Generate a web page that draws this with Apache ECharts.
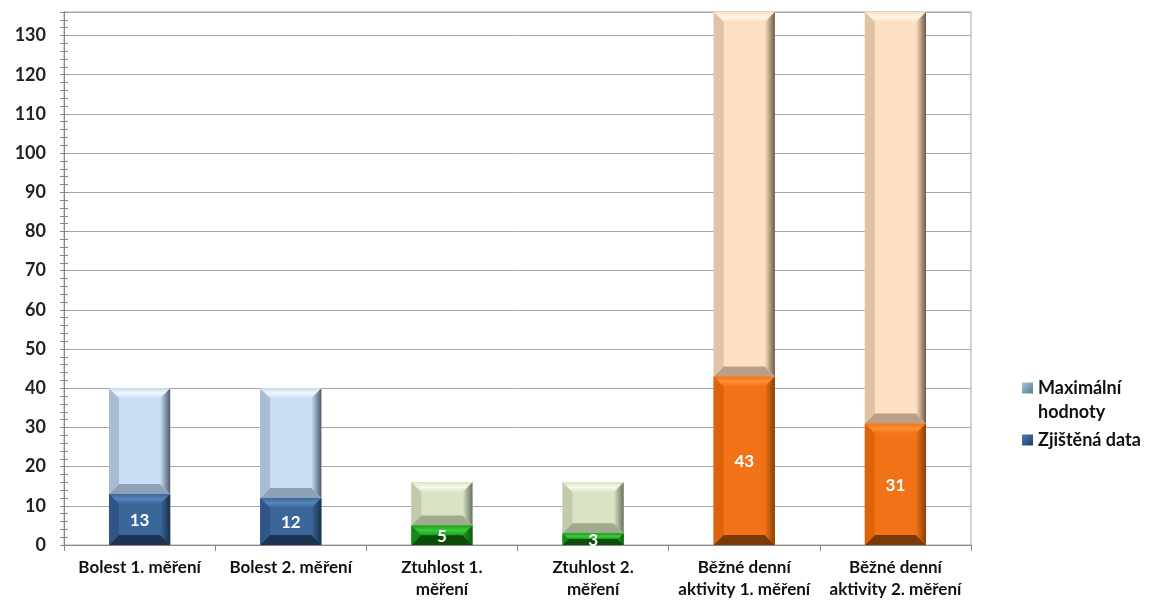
<!DOCTYPE html>
<html>
<head>
<meta charset="utf-8">
<script src="https://cdn.jsdelivr.net/npm/echarts@6/dist/echarts.min.js"></script>
<style>
html,body{margin:0;padding:0;background:#fff;}
#c{width:1157px;height:608px;}
</style>
</head>
<body>
<div id="c"></div>
<script>
const categories = ['Bolest 1. měření', 'Bolest 2. měření', 'Ztuhlost 1.\nměření', 'Ztuhlost 2.\nměření', 'Běžné denní\naktivity 1. měření', 'Běžné denní\naktivity 2. měření'];
const measured = [13, 12, 5, 3, 43, 31];
const maxima = [40, 40, 16, 16, 136, 136];
const colorGroup = [0, 0, 1, 1, 2, 2];
const seriesNames = ['Maximální hodnoty', 'Zjištěná data'];
const yMax = 136;

const palettes = {
  data: [
    {c:'#3b6699', t:'#5686c0', b:'#1d3352', l:'#2f5687', r:'#1b304c', label:true},
    {c:'#1d9d1d', t:'#3acd3a', b:'#0c4d0c', l:'#188a18', r:'#0d5a0d', label:true},
    {c:'#f27217', t:'#ff9233', b:'#7d3905', l:'#de640c', r:'#874005', label:true}
  ],
  max: [
    {c:'#c9ddf5', t:'#f1f7fe', b:'#8fa1b8', l:'#aabcd3', r:'#4e5b6b'},
    {c:'#d9e4c4', t:'#f5f9eb', b:'#a0aa8e', l:'#c1cbac', r:'#69725f'},
    {c:'#fde0c2', t:'#fff5e8', b:'#b8a088', l:'#e0c3a4', r:'#6d594a'}
  ]
};

function makeRender(pkey) {
  return function (params, api) {
    const i = api.value(0), y0 = api.value(1), y1 = api.value(2);
    const p0 = api.coord([i, y0]);
    const p1 = api.coord([i, y1]);
    const bw = api.size([1, 0])[0] * 0.405;
    const x = p0[0] - bw / 2, top = p1[1], bot = p0[1], h = bot - top;
    const b = Math.min(10, h / 2, bw / 2);
    const pal = palettes[pkey][colorGroup[params.dataIndex]];
    const children = [
      {type:'rect', shape:{x:x, y:top, width:bw, height:h}, style:{fill:pal.c}},
      {type:'polygon', shape:{points:[[x,top],[x+bw,top],[x+bw-b,top+b],[x+b,top+b]]}, style:{fill:new echarts.graphic.LinearGradient(0,0,0,1,[{offset:0,color:pal.c},{offset:0.5,color:pal.t},{offset:1,color:pal.c}])}},
      {type:'polygon', shape:{points:[[x,bot],[x+bw,bot],[x+bw-b,bot-b],[x+b,bot-b]]}, style:{fill:pal.b}},
      {type:'polygon', shape:{points:[[x,top],[x+b,top+b],[x+b,bot-b],[x,bot]]}, style:{fill:pal.l}},
      {type:'polygon', shape:{points:[[x+bw,top],[x+bw-b,top+b],[x+bw-b,bot-b],[x+bw,bot]]}, style:{fill:new echarts.graphic.LinearGradient(0,0,1,0,[{offset:0,color:pal.c},{offset:1,color:pal.r}])}}
    ];
    if (pal.label) {
      children.push({type:'text', style:{text:String(Math.round(y1 - y0)), x:p0[0], y:(top+bot)/2 + 1, align:'center', verticalAlign:'middle', fill:'#fff', font:'bold 17px Lato'}});
    }
    return {type:'group', children: children};
  };
}

const dataSeriesData = measured.map((v, i) => [i, 0, v]);
const maxSeriesData = maxima.map((m, i) => [i, measured[i], m]);

const yCommon = {type:'value', min:0, max:yMax, position:'left'};

const option = {
  animation: false,
  grid: {left:64, right:186, top:12, bottom:63, show:true, borderColor:'#a6a6a6', borderWidth:1, backgroundColor:'transparent'},
  legend: {
    orient:'vertical', left:1022, top:352, padding:0, itemGap:4, itemWidth:11, itemHeight:11,
    data:[
      {name:'Maximální hodnoty', icon:'rect', itemStyle:{color:new echarts.graphic.LinearGradient(0,0,1,1,[{offset:0,color:'#a9c6d6'},{offset:1,color:'#4d7f96'}])}},
      {name:'Zjištěná data', icon:'rect', itemStyle:{color:new echarts.graphic.LinearGradient(0,0,1,1,[{offset:0,color:'#4f7fb6'},{offset:1,color:'#1d3a60'}])}}
    ],
    formatter: function (n) { return n === 'Maximální hodnoty' ? ' \nMaximální\nhodnoty' : n; },
    textStyle:{fontFamily:'Lato', fontSize:18, fontWeight:'bold', color:'#111', lineHeight:24}
  },
  xAxis: {
    type:'category', data:categories,
    axisLine:{lineStyle:{color:'#888'}},
    axisTick:{show:true, alignWithLabel:false, length:6, interval:0, lineStyle:{color:'#888'}},
    axisLabel:{interval:0, fontFamily:'Lato', fontSize:17, color:'#111', lineHeight:22, margin:12, fontWeight:'bold'}
  },
  yAxis: [
    Object.assign({}, yCommon, {
      interval:10,
      axisLine:{show:true, lineStyle:{color:'#888'}},
      axisTick:{show:true, length:4, lineStyle:{color:'#888'}},
      axisLabel:{fontFamily:'Lato', fontSize:18, fontWeight:'bold', color:'#222', margin:18, showMaxLabel:false},
      splitLine:{show:true, lineStyle:{color:'#a6a6a6', width:1}}
    }),
    Object.assign({}, yCommon, {
      interval:2,
      axisLine:{show:false},
      axisTick:{show:true, length:4, lineStyle:{color:'#888'}},
      axisLabel:{show:false},
      splitLine:{show:false}
    }),
    Object.assign({}, yCommon, {
      interval:2,
      axisLine:{show:false},
      axisTick:{show:true, inside:true, length:4, lineStyle:{color:'#888'}},
      axisLabel:{show:false},
      splitLine:{show:false}
    })
  ],
  series: [
    {name:'Maximální hodnoty', type:'custom', renderItem:makeRender('max'), data:maxSeriesData, encode:{x:0, y:[1,2]}, itemStyle:{color:'#7aa6bb'}, z:2},
    {name:'Zjištěná data', type:'custom', renderItem:makeRender('data'), data:dataSeriesData, encode:{x:0, y:[1,2]}, itemStyle:{color:'#2f5b91'}, z:3}
  ]
};

const chart = echarts.init(document.getElementById('c'), null, {renderer:'canvas'});
chart.setOption(option);
</script>
</body>
</html>
